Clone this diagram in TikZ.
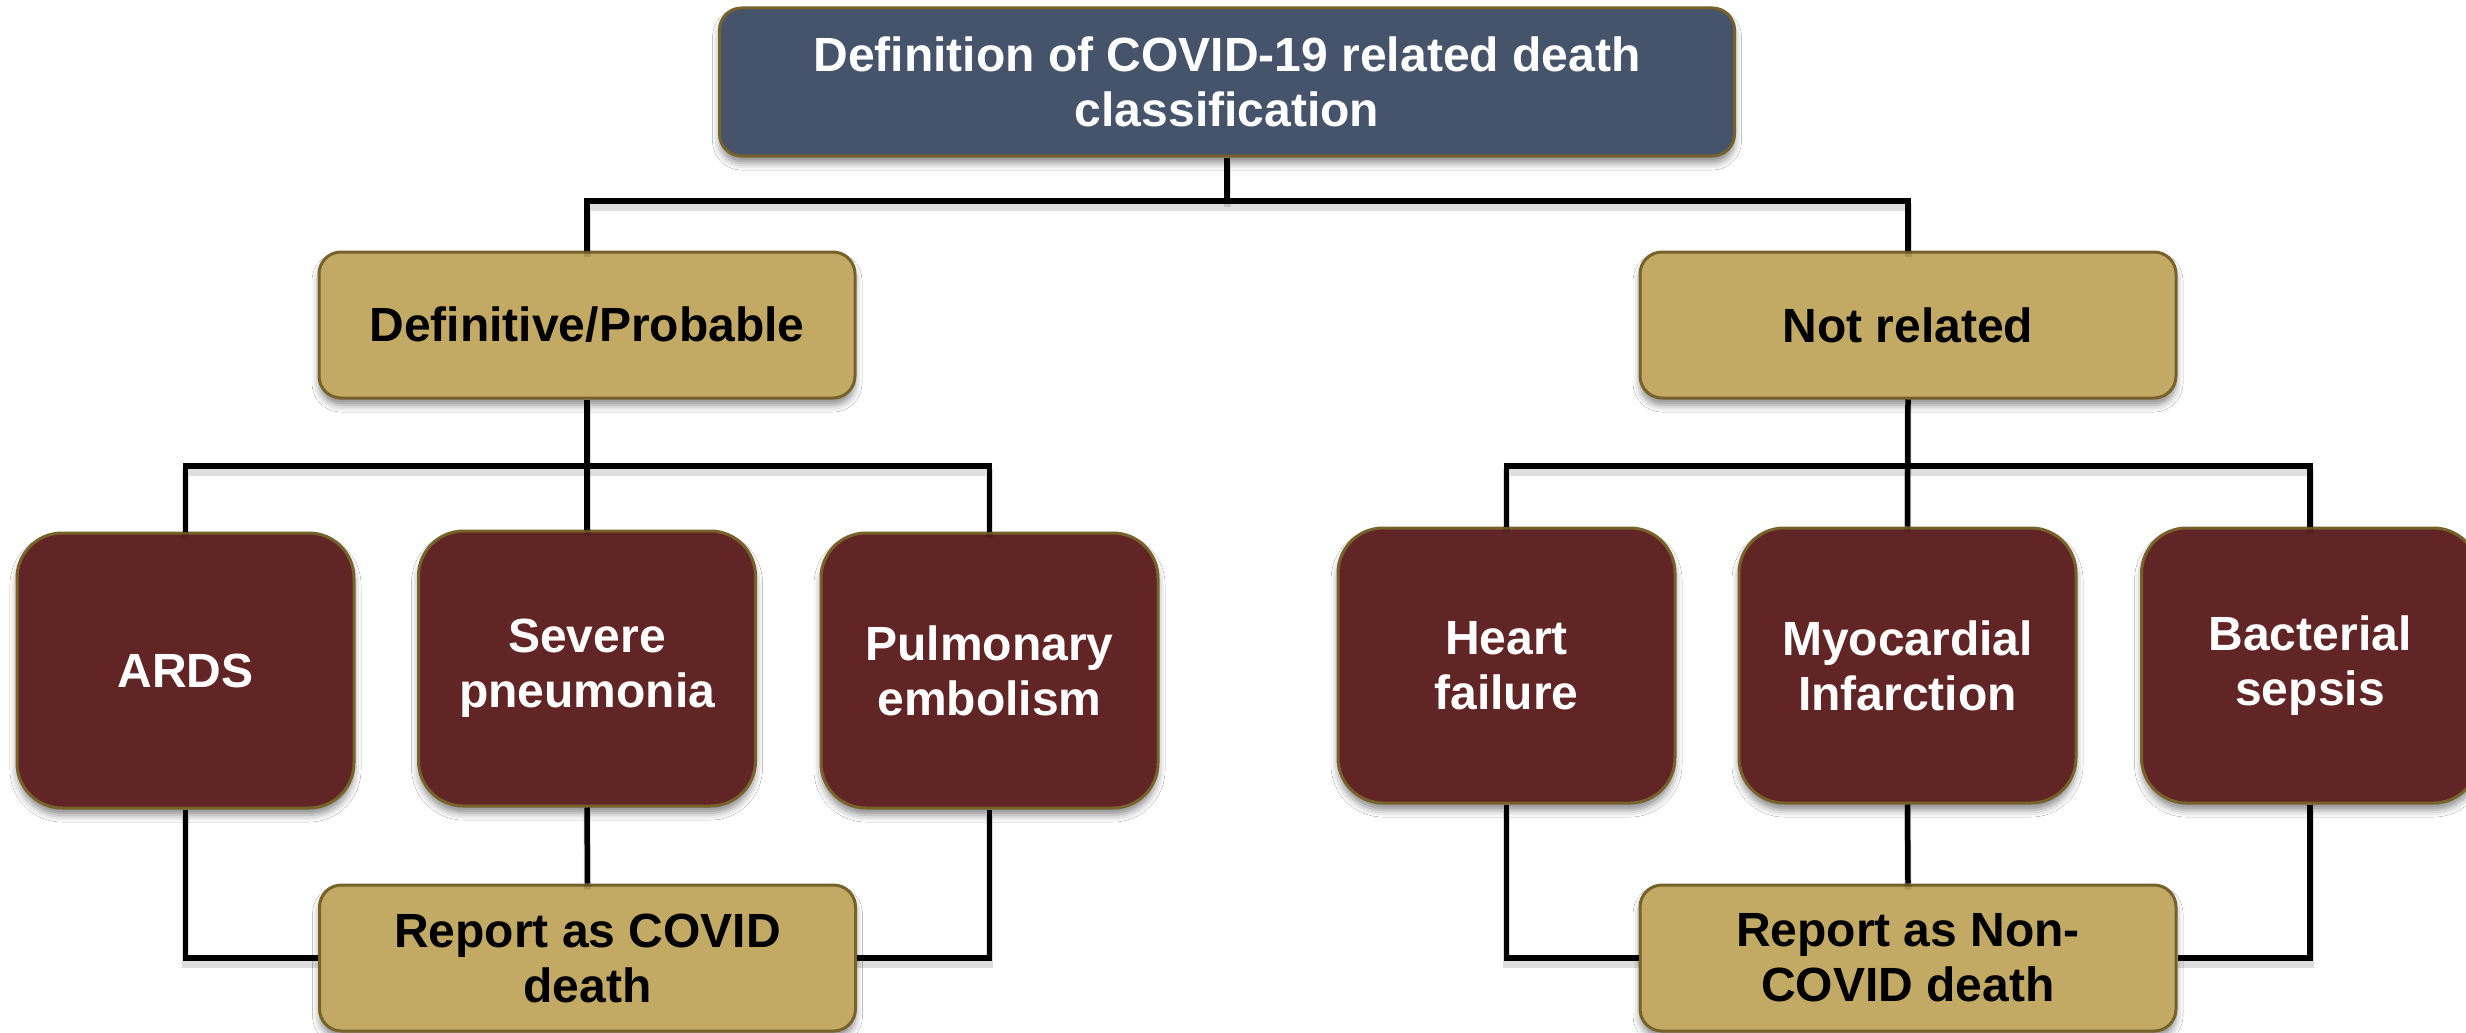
\documentclass[tikz,border=0pt]{standalone}
\usepackage{fontspec}
\setmainfont{Liberation Sans}
\usetikzlibrary{shadows.blur}
\definecolor{slateblue}{RGB}{69,84,106}
\definecolor{goldbox}{RGB}{195,170,100}
\definecolor{maroonbox}{RGB}{98,37,37}
\definecolor{olivebd}{RGB}{118,98,42}
\tikzset{
  basebox/.style={draw=olivebd, line width=3pt, align=center, inner sep=0pt,
    font=\bfseries\fontsize{48}{55}\selectfont,
    blur shadow={shadow xshift=0pt, shadow yshift=-7pt, shadow blur radius=7pt, shadow opacity=45}},
  titlebox/.style={basebox, fill=slateblue, text=white, rounded corners=22pt,
    minimum width=1015pt, minimum height=148pt},
  goldnode/.style={basebox, fill=goldbox, text=black, rounded corners=22pt,
    minimum width=536pt, minimum height=146pt},
  causebox/.style={basebox, fill=maroonbox, text=white, rounded corners=45pt,
    minimum width=337pt, minimum height=275pt},
  conn/.style={draw=black, line width=5.5pt,
    preaction={draw=black, draw opacity=0.13, line width=7pt, transform canvas={yshift=-6pt}}}
}
\begin{document}
\begin{tikzpicture}[x=1pt,y=-1pt]
\useasboundingbox[fill=white] (0,0) rectangle (2466,1033);
\coordinate (b1) at (1227,201);
\coordinate (b2) at (587,466);
\coordinate (b3) at (1908,466);
% nodes
\node[titlebox] (top) at (1227,82) {Definition of COVID-19 related death\\classification};
\node[goldnode] (def) at (587,325) {Definitive/Probable};
\node[goldnode] (notrel) at (1908,325) {Not related};
\node[causebox] (ards) at (185.5,670.5) {ARDS};
\node[causebox] (sev) at (587,668.5) {Severe\\pneumonia};
\node[causebox] (pulm) at (989.5,670.5) {Pulmonary\\embolism};
\node[causebox] (heart) at (1506.5,665.5) {Heart\\failure};
\node[causebox] (myo) at (1907.5,665.5) {Myocardial\\Infarction};
\node[causebox] (bact) at (2310,665.5) {Bacterial\\sepsis};
\node[goldnode] (rep1) at (587.5,958) {Report as COVID\\death};
\node[goldnode] (rep2) at (1908,958) {Report as Non-\\COVID death};
% connectors
\draw[conn] (top.south) -- (b1);
\draw[conn] (def.north) |- (b1) -| (notrel.north);
\draw[conn] (def.south) -- (sev.north);
\draw[conn] (ards.north) |- (b2) -| (pulm.north);
\draw[conn] (notrel.south) -- (myo.north);
\draw[conn] (heart.north) |- (b3) -| (bact.north);
\draw[conn] (sev.south) -- (rep1.north);
\draw[conn] (ards.south) |- (rep1.west);
\draw[conn] (pulm.south) |- (rep1.east);
\draw[conn] (myo.south) -- (rep2.north);
\draw[conn] (heart.south) |- (rep2.west);
\draw[conn] (bact.south) |- (rep2.east);
\end{tikzpicture}
\end{document}
